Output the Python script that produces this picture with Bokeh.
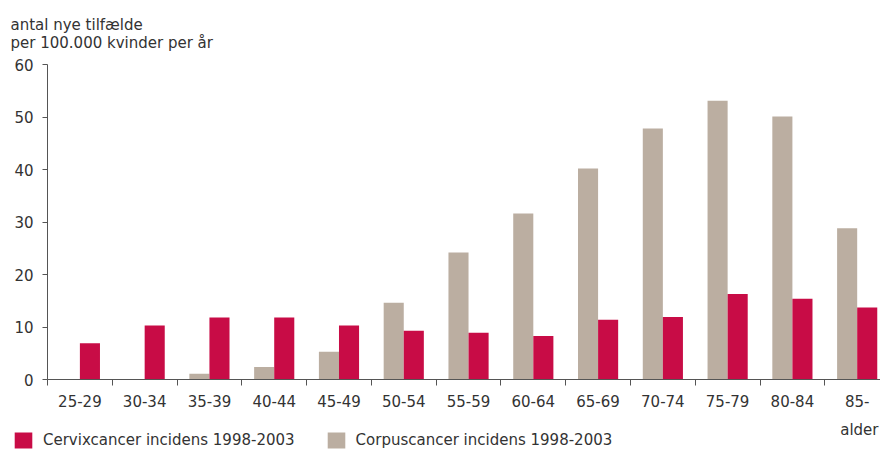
import numpy as np
from bokeh.plotting import figure
from bokeh.layouts import column, row
from bokeh.models import Range1d, FixedTicker, Legend, LegendItem, Title, Label, ColumnDataSource
from bokeh.embed import file_html
from bokeh.resources import INLINE

age_groups = ["25-29", "30-34", "35-39", "40-44", "45-49", "50-54", "55-59",
              "60-64", "65-69", "70-74", "75-79", "80-84", "85-"]
cervix = [6.9, 10.3, 11.8, 11.8, 10.3, 9.3, 8.9, 8.3, 11.4, 11.9, 16.3, 15.4, 13.7]
corpus = [0.0, 0.0, 1.1, 2.4, 5.3, 14.6, 24.2, 31.6, 40.2, 47.8, 53.1, 50.1, 28.8]
y_ticks = [0, 10, 20, 30, 40, 50, 60]
series_names = ["Cervixcancer incidens 1998-2003", "Corpuscancer incidens 1998-2003"]

RED = "#C80C46"
GREY = "#BBAEA1"
TXT = "#333333"
AXC = "#555555"
FONT = "DejaVu Sans"

n = len(age_groups)
centers = np.arange(n) + 0.5
bw = 0.31

src = ColumnDataSource(dict(
    xc=centers + bw / 2, xg=centers - bw / 2, cervix=cervix, corpus=corpus))

p = figure(width=880, height=410, output_backend="svg", toolbar_location=None,
           x_range=Range1d(0, 12.86), y_range=Range1d(0, 60), title=None,
           min_border_left=47, min_border_right=0, min_border_top=64,
           min_border_bottom=31)
p.outline_line_color = None
p.grid.visible = False

rg = p.vbar(x="xg", top="corpus", width=bw, source=src, fill_color=GREY, line_color=None)
rc = p.vbar(x="xc", top="cervix", width=bw, source=src, fill_color=RED, line_color=None)

# x axis
xa = p.xaxis[0]
xa.ticker = FixedTicker(ticks=list(centers), minor_ticks=list(range(n + 1)))
xa.major_label_overrides = {float(c): lab for c, lab in zip(centers, age_groups)}
xa.major_tick_line_color = None
xa.major_tick_out = 0
xa.major_tick_in = 0
xa.minor_tick_line_color = AXC
xa.minor_tick_out = 6
xa.minor_tick_in = 0
xa.axis_line_color = AXC
xa.major_label_standoff = 9
xa.major_label_text_font = FONT
xa.major_label_text_font_size = "15px"
xa.major_label_text_color = TXT

# y axis
ya = p.yaxis[0]
ya.ticker = FixedTicker(ticks=y_ticks)
ya.minor_tick_line_color = None
ya.major_tick_out = 5
ya.major_tick_in = 0
ya.major_tick_line_color = AXC
ya.axis_line_color = AXC
ya.major_label_standoff = 9
ya.major_label_text_font = FONT
ya.major_label_text_font_size = "15px"
ya.major_label_text_color = TXT

# y-axis title (two lines) above the frame
p.add_layout(Title(text="antal nye tilfælde\nper 100.000 kvinder per år", align="left",
                   offset=-37, standoff=25, text_line_height=1.0,
                   text_font=FONT, text_font_size="15px", text_color=TXT,
                   text_font_style="normal"), "above")

# bottom strip: "alder" and legend
p2 = figure(width=880, height=40, output_backend="svg", toolbar_location=None,
            x_axis_type=None, y_axis_type=None, x_range=Range1d(0, 1), y_range=Range1d(100, 101),
            min_border=0, min_border_left=0, title=None)
p2.outline_line_color = None
p2.grid.visible = False
lr = p2.vbar(x="xc", top="cervix", width=bw, source=src, fill_color=RED, line_color=None)
lg = p2.vbar(x="xg", top="corpus", width=bw, source=src, fill_color=GREY, line_color=None)
legend = Legend(items=[LegendItem(label=series_names[0], renderers=[lr]),
                       LegendItem(label=series_names[1], renderers=[lg])],
                location=(12, 0), orientation="horizontal", padding=0, margin=0,
                spacing=30, label_standoff=9, glyph_width=22, glyph_height=20,
                label_height=20, border_line_color=None, background_fill_alpha=0,
                label_text_font=FONT, label_text_font_size="15px", label_text_color=TXT)
p2.add_layout(legend)
p2.add_layout(Label(x=878, y=21, x_units="screen", y_units="screen", text="alder",
                    text_font=FONT, text_font_size="15px", text_color=TXT,
                    text_align="right", text_baseline="alphabetic"))

layout = column(p, row(p2), spacing=0)
open("out.html", "w").write(file_html(layout, INLINE))
